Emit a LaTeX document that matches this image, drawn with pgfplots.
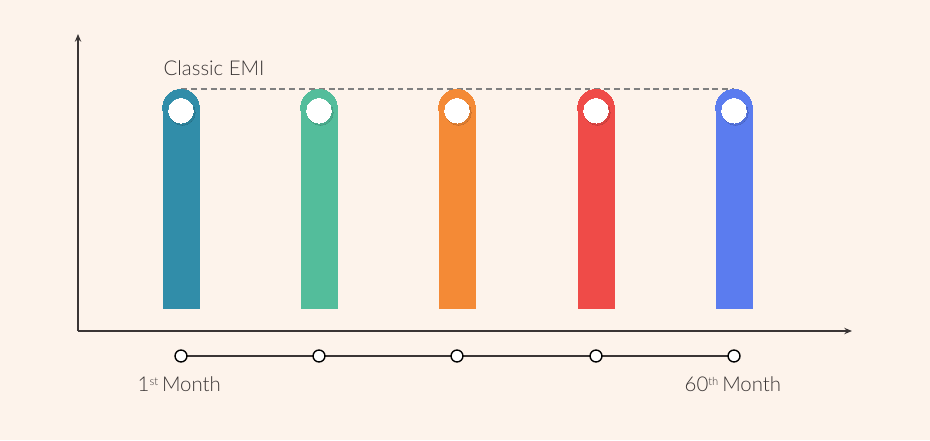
\documentclass[border=0pt]{standalone}
\usepackage{fontspec}
\setmainfont{Lato Light}
\usepackage{pgfplots}
\pgfplotsset{compat=1.18}
\usetikzlibrary{arrows.meta}
\definecolor{bg}{HTML}{FDF3EB}
\definecolor{c1}{HTML}{318DA9}
\definecolor{c2}{HTML}{53BD9B}
\definecolor{c3}{HTML}{F48A36}
\definecolor{c4}{HTML}{EF4B48}
\definecolor{c5}{HTML}{5B7CEF}
\definecolor{ax}{HTML}{3A3535}
\newcommand{\sups}[1]{\raisebox{0.55ex}{\fontsize{3.2}{3.5}\selectfont #1}}
\begin{document}
\begin{tikzpicture}
\begin{axis}[width=9.3cm,height=4.4cm,scale only axis,
  xmin=0,xmax=930,ymin=-131,ymax=309,
  axis lines=none, xtick=\empty, ytick=\empty, clip=false]
\fill[bg] (rel axis cs:0,0) rectangle (rel axis cs:1,1);
% axes
\draw[-{Stealth[length=2.2pt,width=1.8pt]}, line width=0.45pt, ax] (axis cs:78,-22) -- (axis cs:852,-22);
\draw[-{Stealth[length=2.2pt,width=1.8pt]}, line width=0.45pt, ax] (axis cs:78,-22) -- (axis cs:78,275);
% dashed level
\addplot[gray, line width=0.3pt, dash pattern=on 1.7pt off 1.1pt] coordinates {(181,220) (734,220)};
% bars
\addplot[ybar, bar width=37, fill=c1, draw=none] coordinates {(181,201.5)};
\addplot[ybar, bar width=37, fill=c2, draw=none] coordinates {(319,201.5)};
\addplot[ybar, bar width=37, fill=c3, draw=none] coordinates {(457,201.5)};
\addplot[ybar, bar width=37, fill=c4, draw=none] coordinates {(596,201.5)};
\addplot[ybar, bar width=37, fill=c5, draw=none] coordinates {(734,201.5)};
% rounded tops
\addplot[only marks, color=c1, mark=*, mark size=5.2pt, mark options={line width=0pt}] coordinates {(181,201.5)};
\addplot[only marks, color=c2, mark=*, mark size=5.2pt, mark options={line width=0pt}] coordinates {(319,201.5)};
\addplot[only marks, color=c3, mark=*, mark size=5.2pt, mark options={line width=0pt}] coordinates {(457,201.5)};
\addplot[only marks, color=c4, mark=*, mark size=5.2pt, mark options={line width=0pt}] coordinates {(596,201.5)};
\addplot[only marks, color=c5, mark=*, mark size=5.2pt, mark options={line width=0pt}] coordinates {(734,201.5)};
% shadows and white dots
\addplot[only marks, color=black, opacity=0.09, mark=*, mark size=3.6pt, mark options={line width=0pt}] coordinates {(182.5,196.3) (320.5,196.3) (458.5,196.3) (597.5,196.3) (735.5,196.3)};
\addplot[only marks, color=white, mark=*, mark size=3.5pt, mark options={line width=0pt}] coordinates {(181,198.3) (319,198.3) (457,198.3) (596,198.3) (734,198.3)};
% timeline
\addplot[ax, line width=0.4pt, mark=*, mark size=1.7pt, mark options={fill=white, draw=black, line width=0.4pt}] coordinates {(181,-47) (319,-47) (457,-47) (596,-47) (734,-47)};
% labels
\node[anchor=base west, inner sep=0pt, text=ax, font=\fontsize{5.8}{7}\selectfont] at (axis cs:163,234) {Classic EMI};
\node[anchor=base west, inner sep=0pt, text=ax, font=\fontsize{5.8}{7}\selectfont] at (axis cs:137,-82) {1\sups{st}\hspace{1.1pt}Month};
\node[anchor=base west, inner sep=0pt, text=ax, font=\fontsize{5.8}{7}\selectfont] at (axis cs:684,-82) {60\sups{th}\hspace{1.1pt}Month};
\end{axis}
\end{tikzpicture}
\end{document}
